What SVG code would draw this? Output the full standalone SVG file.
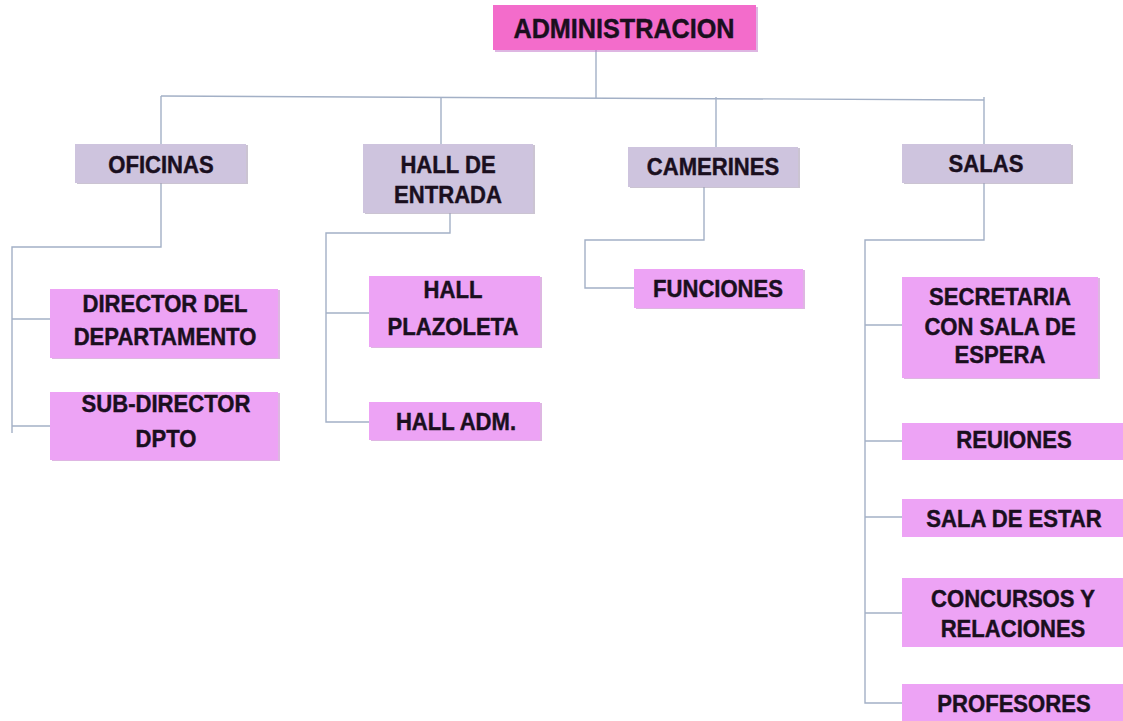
<svg xmlns="http://www.w3.org/2000/svg" width="1123" height="721" viewBox="0 0 1123 721">
<style>
.bg{fill:#ffffff}
.c{fill:none;stroke:#A3B0C6;stroke-width:1.4}
.root{fill:#F36CCB}
.l1{fill:#CEC4DE}
.l2{fill:#EDA3F5}
.sh{fill:#A89CB4;opacity:0.6}
.shp{fill:#C27ACB;opacity:0.55}
text{font-family:"Liberation Sans",Arial,sans-serif;font-weight:bold;fill:#1A0F1E;stroke:#1A0F1E;stroke-width:0.45;text-anchor:middle}
.t1{font-size:24px}
.t0{font-size:28px}
</style>
<rect class="bg" x="0" y="0" width="1123" height="721"/>
<g id="connectors">
<line class="c" x1="596" y1="50" x2="596" y2="98"/>
<line class="c" x1="161" y1="96" x2="984" y2="100"/>
<polyline class="c" points="161,96 161,144"/>
<polyline class="c" points="161,183 161,247 12,247 12,433"/>
<line class="c" x1="12" y1="319" x2="52" y2="319"/>
<line class="c" x1="12" y1="426" x2="52" y2="426"/>
<polyline class="c" points="441,97 441,144"/>
<polyline class="c" points="450,213 450,233 326,233 326,422 369,422"/>
<line class="c" x1="326" y1="313" x2="369" y2="313"/>
<polyline class="c" points="716,97 716,147"/>
<polyline class="c" points="704,187 704,240 585,240 585,288 634,288"/>
<polyline class="c" points="984,97 984,144"/>
<polyline class="c" points="984,183 984,240 865,240 865,703 902,703"/>
<line class="c" x1="865" y1="325" x2="902" y2="325"/>
<line class="c" x1="865" y1="441" x2="902" y2="441"/>
<line class="c" x1="865" y1="517" x2="902" y2="517"/>
<line class="c" x1="865" y1="613" x2="902" y2="613"/>
</g>
<g id="administracion">
<rect class="shp" x="495" y="7" width="263" height="45"/>
<rect class="root" x="493" y="5" width="263" height="45"/>
<text class="t0" transform="translate(624,38) scale(0.9,1)">ADMINISTRACION</text>
</g>
<g id="oficinas">
<rect class="sh" x="77" y="145" width="171" height="39"/>
<rect class="l1" x="75" y="144" width="171" height="39"/>
<text class="t1" transform="translate(161,173) scale(0.92,1)">OFICINAS</text>
</g>
<g id="hall-entrada">
<rect class="sh" x="365" y="145" width="170" height="69"/>
<rect class="l1" x="363" y="144" width="170" height="69"/>
<text class="t1" transform="translate(448,173) scale(0.92,1)">HALL DE</text>
<text class="t1" transform="translate(448,203) scale(0.92,1)">ENTRADA</text>
</g>
<g id="camerines">
<rect class="sh" x="630" y="148" width="170" height="40"/>
<rect class="l1" x="628" y="147" width="170" height="40"/>
<text class="t1" transform="translate(713,175) scale(0.92,1)">CAMERINES</text>
</g>
<g id="salas">
<rect class="sh" x="904" y="145" width="169" height="39"/>
<rect class="l1" x="902" y="144" width="169" height="39"/>
<text class="t1" transform="translate(986,172) scale(0.92,1)">SALAS</text>
</g>
<g id="director">
<rect class="shp" x="52" y="290" width="228" height="69"/>
<rect class="l2" x="50" y="289" width="228" height="69"/>
<text class="t1" transform="translate(165,312) scale(0.92,1)">DIRECTOR DEL</text>
<text class="t1" transform="translate(165,345) scale(0.92,1)">DEPARTAMENTO</text>
</g>
<g id="subdirector">
<rect class="shp" x="52" y="393" width="228" height="68"/>
<rect class="l2" x="50" y="392" width="228" height="68"/>
<text class="t1" transform="translate(166,412) scale(0.92,1)">SUB-DIRECTOR</text>
<text class="t1" transform="translate(166,447) scale(0.92,1)">DPTO</text>
</g>
<g id="hall-plazoleta">
<rect class="shp" x="371" y="277" width="171" height="71"/>
<rect class="l2" x="369" y="276" width="171" height="71"/>
<text class="t1" transform="translate(453,298) scale(0.92,1)">HALL</text>
<text class="t1" transform="translate(453,335) scale(0.92,1)">PLAZOLETA</text>
</g>
<g id="hall-adm">
<rect class="shp" x="371" y="403" width="171" height="38"/>
<rect class="l2" x="369" y="402" width="171" height="38"/>
<text class="t1" transform="translate(456,430) scale(0.92,1)">HALL ADM.</text>
</g>
<g id="funciones">
<rect class="shp" x="636" y="270" width="169" height="39"/>
<rect class="l2" x="634" y="269" width="169" height="39"/>
<text class="t1" transform="translate(718,297) scale(0.92,1)">FUNCIONES</text>
</g>
<g id="secretaria">
<rect class="shp" x="904" y="278" width="196" height="101"/>
<rect class="l2" x="902" y="277" width="196" height="101"/>
<text class="t1" transform="translate(1000,305) scale(0.92,1)">SECRETARIA</text>
<text class="t1" transform="translate(1000,335) scale(0.92,1)">CON SALA DE</text>
<text class="t1" transform="translate(1000,363) scale(0.92,1)">ESPERA</text>
</g>
<g id="reuiones">
<rect class="l2" x="902" y="423" width="224" height="37"/>
<text class="t1" transform="translate(1014,448) scale(0.92,1)">REUIONES</text>
</g>
<g id="sala-estar">
<rect class="l2" x="902" y="499" width="224" height="38"/>
<text class="t1" transform="translate(1014,527) scale(0.92,1)">SALA DE ESTAR</text>
</g>
<g id="concursos">
<rect class="l2" x="902" y="578" width="224" height="69"/>
<text class="t1" transform="translate(1013,607) scale(0.92,1)">CONCURSOS Y</text>
<text class="t1" transform="translate(1013,637) scale(0.92,1)">RELACIONES</text>
</g>
<g id="profesores">
<rect class="l2" x="902" y="684" width="224" height="40"/>
<text class="t1" transform="translate(1014,712) scale(0.92,1)">PROFESORES</text>
</g>
</svg>
